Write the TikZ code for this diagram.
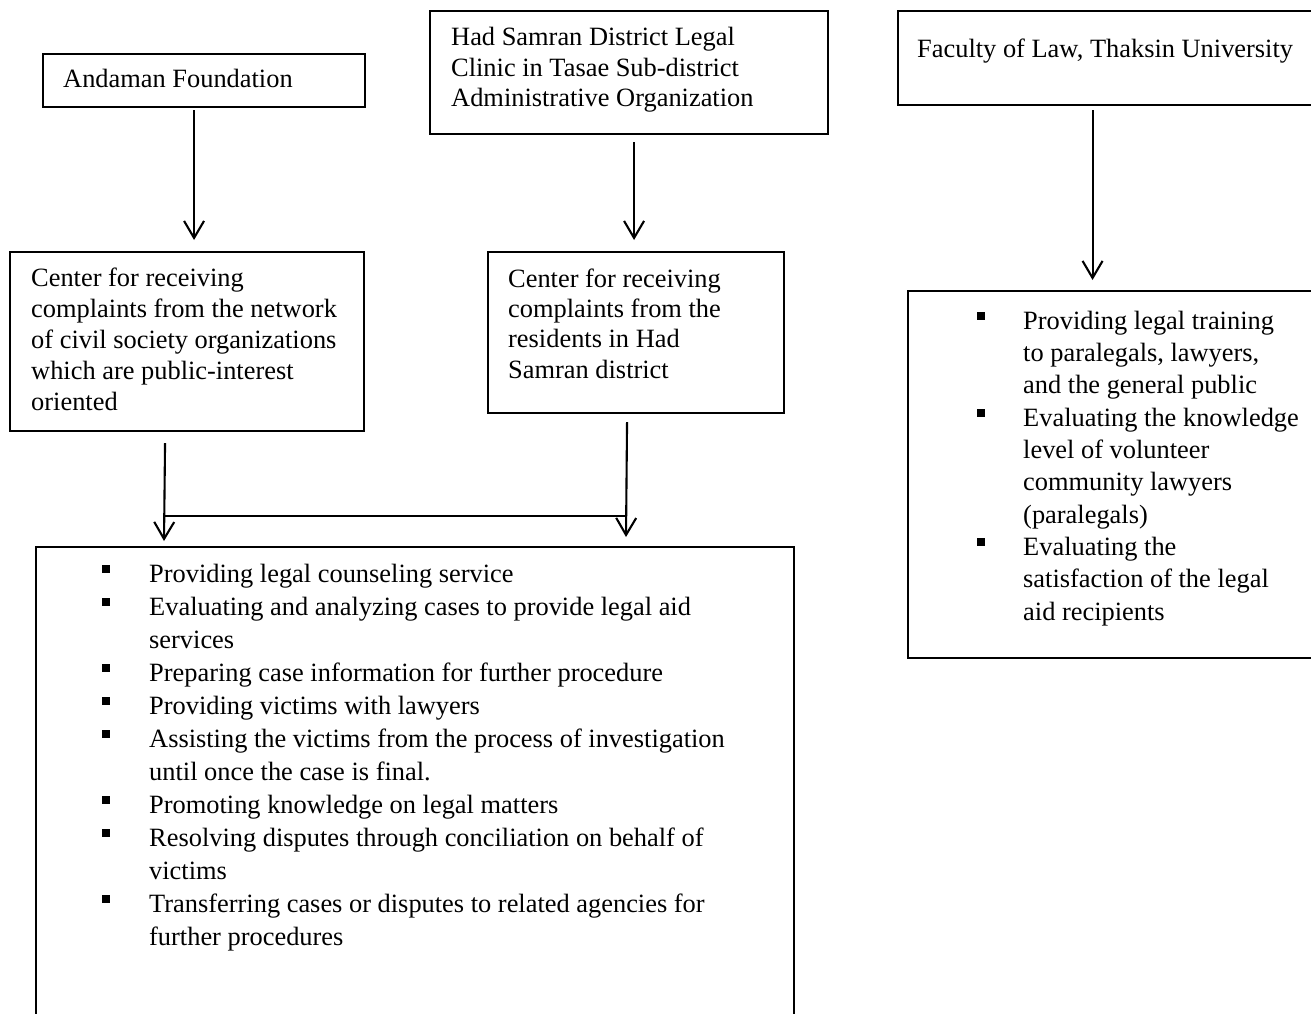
\documentclass[tikz,border=0pt]{standalone}
\usepackage{fontspec}
\setmainfont{Liberation Serif}
\usetikzlibrary{arrows.meta,calc}
\newcommand{\sqbul}[1]{\makebox[0pt][r]{\rule[9.5pt]{8pt}{8pt}\hspace{#1}}}
\begin{document}
\begin{tikzpicture}[x=1pt,y=-1pt,
  box/.style={draw, line width=2.1pt, rectangle, inner sep=0pt, anchor=north west},
  txt/.style={anchor=base west, inner sep=0pt, align=left},
  arr/.style={line width=2.1pt, -{Straight Barb[length=17pt,width=20pt,line width=2.1pt]}},
  conn/.style={line width=2.1pt}]
\useasboundingbox (0,0) rectangle (1311,1014);

% boxes
\node[box, minimum width=322pt, minimum height=53pt] (andaman) at (42,53) {};
\node[box, minimum width=398pt, minimum height=123pt] (hadsamran) at (429,10) {};
\node[box, minimum width=423pt, minimum height=94pt] (faculty) at (897,10) {};
\node[box, minimum width=354pt, minimum height=179pt] (centerL) at (9,251) {};
\node[box, minimum width=296pt, minimum height=161pt] (centerR) at (487,251) {};
\node[box, minimum width=413pt, minimum height=367pt] (tasks) at (907,290) {};
\node[box, minimum width=758pt, minimum height=484pt] (services) at (35,546) {};

% texts (anchor = baseline of the last line)
\node[txt, font=\fontsize{26.4}{31}\selectfont] (tAnd) at (63,88) {Andaman Foundation};
\node[txt, font=\fontsize{26.4}{30.5}\selectfont] (tHad) at (451,107) {Had Samran District Legal\\Clinic in Tasae Sub-district\\Administrative Organization};
\node[txt, font=\fontsize{26.4}{31}\selectfont] (tFac) at (917,58) {Faculty of Law, Thaksin University};
\node[txt, font=\fontsize{26.4}{31}\selectfont] (tCL) at (31,410) {Center for receiving\\complaints from the network\\of civil society organizations\\which are public-interest\\oriented};
\node[txt, font=\fontsize{26.4}{30.3}\selectfont] (tCR) at (508,378) {Center for receiving\\complaints from the\\residents in Had\\Samran district};
\node[txt, font=\fontsize{26.4}{32.3}\selectfont] (tTasks) at (1023,620) {\sqbul{38pt}Providing legal training\\to paralegals, lawyers,\\and the general public\\\sqbul{38pt}Evaluating the knowledge\\level of volunteer\\community lawyers\\(paralegals)\\\sqbul{38pt}Evaluating the\\satisfaction of the legal\\aid recipients};
\node[txt, font=\fontsize{26.4}{33}\selectfont] (tServ) at (149,945) {\sqbul{39pt}Providing legal counseling service\\\sqbul{39pt}Evaluating and analyzing cases to provide legal aid\\services\\\sqbul{39pt}Preparing case information for further procedure\\\sqbul{39pt}Providing victims with lawyers\\\sqbul{39pt}Assisting the victims from the process of investigation\\until once the case is final.\\\sqbul{39pt}Promoting knowledge on legal matters\\\sqbul{39pt}Resolving disputes through conciliation on behalf of\\victims\\\sqbul{39pt}Transferring cases or disputes to related agencies for\\further procedures};

% connectors
\draw[arr] ($(andaman.south)+(-10,2)$) -- ($(centerL.north)+(7,-11)$);
\draw[arr] ($(hadsamran.south)+(5,7)$) -- ($(centerR.north)+(-2,-11)$);
\draw[arr] ($(faculty.south)+(-17,4)$) -- ($(tasks.north)+(-22,-10)$);
\coordinate (joinL) at ($(centerL.south)+(-22,84)$);
\coordinate (joinR) at ($(centerR.south)+(-9,102)$);
\draw[arr] ($(centerL.south)+(-22,11)$) -- ($(services.north west)+(129,-5)$);
\draw[arr] ($(centerR.south)+(-9,8)$) -- ($(services.north west)+(591,-9)$);
\draw[conn] (joinL) -- (joinR);
\end{tikzpicture}
\end{document}
